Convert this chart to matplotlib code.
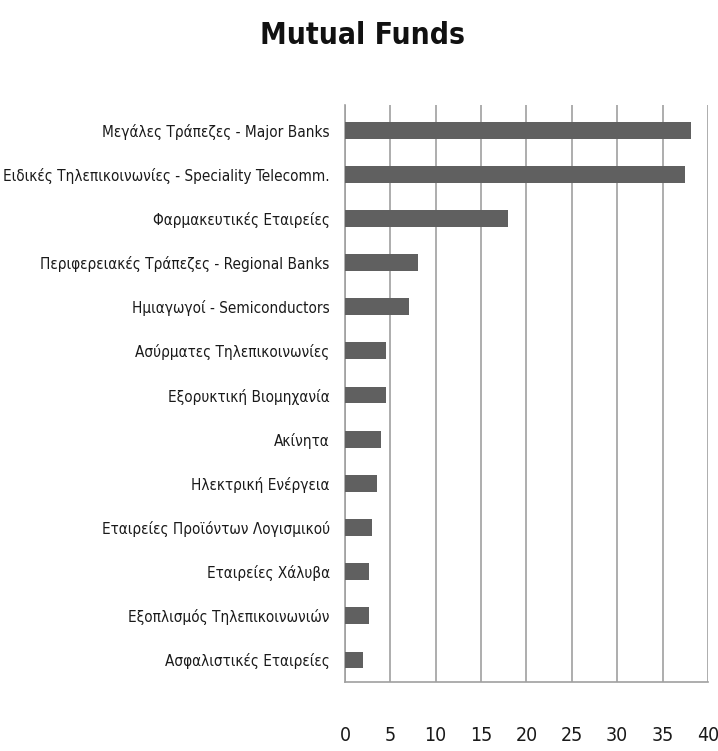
import matplotlib
matplotlib.use("Agg")
import matplotlib.pyplot as plt
from matplotlib import font_manager

categories = [
    "Μεγάλες Τράπεζες - Major Banks",
    "Ειδικές Τηλεπικοινωνίες - Speciality Telecomm.",
    "Φαρμακευτικές Εταιρείες",
    "Περιφερειακές Τράπεζες - Regional Banks",
    "Ημιαγωγοί - Semiconductors",
    "Ασύρματες Τηλεπικοινωνίες",
    "Εξορυκτική Βιομηχανία",
    "Ακίνητα",
    "Ηλεκτρική Ενέργεια",
    "Εταιρείες Προϊόντων Λογισμικού",
    "Εταιρείες Χάλυβα",
    "Εξοπλισμός Τηλεπικοινωνιών",
    "Ασφαλιστικές Εταιρείες",
]
values = [38.1, 37.5, 18.0, 8.0, 7.0, 4.5, 4.5, 4.0, 3.5, 3.0, 2.6, 2.6, 2.0]
xticks = [0, 5, 10, 15, 20, 25, 30, 35, 40]


def pick_font(bold):
    """Return the narrowest available sans face (prefers extra-condensed)."""
    bold_w = (600, 700, "bold", "semibold", "demibold")
    norm_w = (400, "normal", "regular", "book")
    ok_w = bold_w if bold else norm_w
    prefs = ["Noto Sans", "Open Sans", "Roboto", "Lato", "Inter", "DejaVu Sans",
             "Liberation Sans Narrow"]
    for stretch in ("extra-condensed", "condensed", "semi-condensed"):
        for name in prefs:
            for f in font_manager.fontManager.ttflist:
                if (f.name == name and f.stretch == stretch and f.weight in ok_w
                        and f.style == "normal"):
                    return font_manager.FontProperties(fname=f.fname)
    for f in font_manager.fontManager.ttflist:
        if f.name == "Liberation Sans Narrow" and f.weight in ok_w and f.style == "normal":
            return font_manager.FontProperties(fname=f.fname)
    return font_manager.FontProperties(family=["Liberation Sans", "DejaVu Sans"],
                                       weight="bold" if bold else "normal")


label_font = pick_font(False)
title_font = pick_font(True)

fig = plt.figure(figsize=(7.18, 7.51), dpi=100)
ax = fig.add_axes([0.4805, 0.0919, 0.986 - 0.4805, 0.860 - 0.0919])

pos = list(range(len(categories)))[::-1]
ax.barh(pos, values, height=0.38, color="#606060", zorder=3)

ax.set_xlim(0, 40)
ax.set_ylim(-0.5, len(categories) - 0.434)
ax.set_xticks(xticks)
ax.set_xticklabels([str(t) for t in xticks])
ax.set_yticks(pos)
ax.set_yticklabels(categories)

for t in ax.get_yticklabels():
    t.set_fontproperties(label_font)
    t.set_fontsize(13)
    t.set_color("#1a1a1a")
for t in ax.get_xticklabels():
    t.set_fontproperties(label_font)
    t.set_fontsize(14)
    t.set_color("#1a1a1a")

ax.tick_params(axis="x", length=0, pad=32)
ax.tick_params(axis="y", length=0, pad=11)

ax.grid(axis="x", color="#a0a0a0", linewidth=1.2, zorder=0)
for side in ["top", "right"]:
    ax.spines[side].set_visible(False)
for side in ["left", "bottom"]:
    ax.spines[side].set_color("#a0a0a0")
    ax.spines[side].set_linewidth(1.2)

title = fig.text(0.505, 1 - 44 / 751, "Mutual Funds", ha="center", va="baseline",
                 fontproperties=title_font, fontsize=26, color="#111111")

# Fit the category labels and the title to their intended widths.
renderer = fig.canvas.get_renderer()
longest = max(ax.get_yticklabels(), key=lambda t: t.get_window_extent(renderer).width)
scale = 326 / longest.get_window_extent(renderer).width
for t in ax.get_yticklabels():
    t.set_fontsize(13 * scale)
title.set_fontsize(26 * 205 / title.get_window_extent(renderer).width)

fig.savefig("out.png", dpi=100)
